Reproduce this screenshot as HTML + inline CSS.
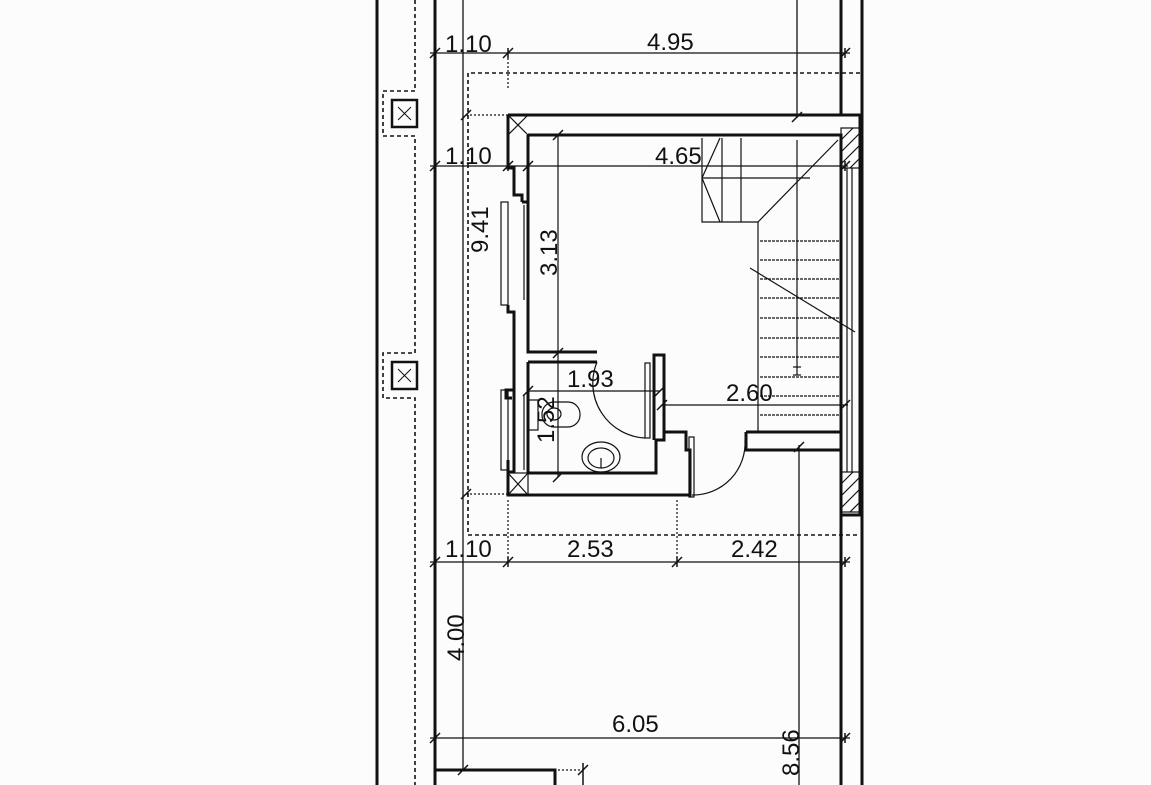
<!DOCTYPE html>
<html><head><style>
html,body{margin:0;padding:0;background:#fcfcfc;}
svg{display:block}
text{font-family:"Liberation Sans",sans-serif;font-size:24px;fill:#111}
</style></head><body>
<svg width="1151" height="785" viewBox="0 0 1151 785" xmlns="http://www.w3.org/2000/svg">
<g stroke="#111" fill="none">
<line x1="377" y1="0" x2="377" y2="785" stroke-width="3"/>
<line x1="862" y1="0" x2="862" y2="785" stroke-width="3"/>
<line x1="435" y1="0" x2="435" y2="785" stroke-width="3"/>
<line x1="463" y1="0" x2="463" y2="770" stroke-width="1.3"/>
<line x1="841" y1="0" x2="841" y2="115" stroke-width="3"/>
<line x1="841" y1="515" x2="841" y2="785" stroke-width="3"/>
<line x1="797" y1="0" x2="797" y2="118" stroke-width="1.3"/>
<line x1="799" y1="445" x2="799" y2="785" stroke-width="1.3"/>
<g stroke-dasharray="4,3" stroke-width="1.6">
<polyline points="415,0 415,91 383,91 383,136 415,136 415,353 383,353 383,398 415,398 415,785"/>
<polyline points="860,73 468,73 468,535 860,535"/>
</g>
<g stroke-dasharray="2,2" stroke-width="1.2">
<line x1="508" y1="58" x2="508" y2="90"/>
<line x1="466" y1="115" x2="508" y2="115"/>
<line x1="466" y1="494" x2="508" y2="494"/>
<line x1="508" y1="500" x2="508" y2="560"/>
<line x1="677" y1="500" x2="677" y2="560"/>
<line x1="558" y1="770" x2="583" y2="770"/>
</g>
<rect x="392" y="100" width="25" height="27" stroke-width="2.5"/>
<path d="M398 107 L411 120 M411 107 L398 120" stroke-width="1"/>
<rect x="392" y="362" width="25" height="27" stroke-width="2.5"/>
<path d="M398 369 L411 382 M411 369 L398 382" stroke-width="1"/>
<g stroke-width="1.2">
<line x1="430" y1="53" x2="850" y2="53"/>
<line x1="430" y1="166" x2="848" y2="166"/>
<line x1="430" y1="562" x2="850" y2="562"/>
<line x1="430" y1="738" x2="850" y2="738"/>
<line x1="558" y1="135" x2="558" y2="477"/>
<line x1="528" y1="391" x2="660" y2="391"/>
<line x1="662" y1="405" x2="848" y2="405"/>
<line x1="797" y1="140" x2="797" y2="375"/>
</g>
<g stroke-width="1.5">
<path d="M430 58 L440 48 M503 58 L513 48 M840 58 L850 48 M430 171 L440 161 M503 171 L513 161 M523 171 L533 161 M840 171 L850 161 M430 567 L440 557 M503 567 L513 557 M672 567 L682 557 M840 567 L850 557 M430 743 L440 733 M840 743 L850 733 M792 122 L802 112 M553 140 L563 130 M553 358 L563 348 M553 482 L563 472 M523 396 L533 386 M655 396 L665 386 M657 410 L667 400 M840 410 L850 400 M461 120 L471 110 M461 499 L471 489 M794 452 L804 442 M578 775 L588 765 M458 775 L468 765"/>
<path d="M435 48 V58 M508 48 V58 M845 48 V58 M435 161 V171 M508 161 V171 M528 161 V171 M845 161 V171 M435 557 V567 M508 557 V567 M677 557 V567 M845 557 V567 M435 733 V743 M845 733 V743 M583 763 V785"/>
</g>
<g stroke-width="3">
<polyline points="508,115 860,115 860,515 841,515"/>
<polyline points="528,135 841,135 841,515"/>
<polyline points="508,115 508,168 514,168 514,195 522,195 522,202"/>
<polyline points="528,135 528,352 597,352"/>
<polyline points="528,362 597,362"/>
<polyline points="508,305 508,312 514,312 514,390 506,390 506,398 512,398"/>
<polyline points="528,362 528,473 656,473 656,440 664,440 664,355 654,355 654,440"/>
<polyline points="508,460 508,495 690,495 690,450 686,450 686,432 664,432"/>
<polyline points="746,432 841,432"/>
<polyline points="746,432 746,450 841,450"/>
<polyline points="514,390 514,472 508,472 508,495"/>
<polyline points="522,202 528,202"/>
</g>
<g stroke-width="1.2">
<rect x="501" y="202" width="7" height="103"/>
<rect x="501" y="390" width="7" height="80"/>
<line x1="524" y1="205" x2="524" y2="300"/>
<line x1="524" y1="395" x2="524" y2="470"/>
<line x1="508" y1="115" x2="528" y2="135"/>
<line x1="528" y1="115" x2="508" y2="135"/>
<rect x="508" y="473" width="20" height="22"/>
<line x1="508" y1="473" x2="528" y2="495"/><line x1="528" y1="473" x2="508" y2="495"/>
<rect x="645" y="363" width="5" height="75"/>
<path d="M597 362 A55 55 0 0 0 645 438"/>
<rect x="689" y="437" width="5" height="60"/>
<path d="M692 495 A52 52 0 0 0 745 440"/>
<rect x="542" y="402" width="38" height="25" rx="12"/>
<ellipse cx="554" cy="414" rx="7" ry="6"/>
<rect x="528" y="400" width="10" height="30"/>
<ellipse cx="601" cy="457" rx="19" ry="15"/>
<ellipse cx="601" cy="458" rx="13" ry="10"/>
<line x1="601" y1="458" x2="601" y2="468"/>
<rect x="841" y="128" width="19" height="40"/>
<path d="M841 140 L853 128 M841 152 L860 133 M841 164 L860 145 M850 168 L860 158"/>
<rect x="841" y="472" width="19" height="40"/>
<path d="M841 484 L853 472 M841 496 L860 477 M841 508 L860 489 M850 512 L860 502"/>
<line x1="847" y1="168" x2="847" y2="472"/><line x1="852" y1="168" x2="852" y2="472"/>
<polyline points="702,138 702,222 758,222 758,432"/>
<line x1="722" y1="138" x2="722" y2="222"/>
<line x1="741" y1="138" x2="741" y2="222"/>
<line x1="702" y1="178" x2="810" y2="178"/>
<line x1="720" y1="138" x2="702" y2="178"/>
<line x1="702" y1="178" x2="720" y2="222"/>
<line x1="758" y1="222" x2="838" y2="140"/>
<line x1="750" y1="268" x2="855" y2="332"/>
</g>
<g stroke-width="1.2" stroke-dasharray="3,1">
<line x1="760" y1="241" x2="841" y2="241"/>
<line x1="760" y1="260" x2="841" y2="260"/>
<line x1="760" y1="279" x2="841" y2="279"/>
<line x1="760" y1="298" x2="841" y2="298"/>
<line x1="760" y1="318" x2="841" y2="318"/>
<line x1="760" y1="338" x2="841" y2="338"/>
<line x1="760" y1="357" x2="841" y2="357"/>
<line x1="760" y1="377" x2="841" y2="377"/>
<line x1="760" y1="396" x2="841" y2="396"/>
<line x1="760" y1="415" x2="841" y2="415"/>
</g>
<line x1="793" y1="367" x2="801" y2="367" stroke-width="1.2"/>
<line x1="793" y1="375" x2="801" y2="375" stroke-width="1.2"/>
<polyline points="435,737 435,770 555,770 555,785" stroke-width="3"/>
</g>
<text x="445" y="52">1.10</text>
<text x="647" y="50">4.95</text>
<text x="445" y="164">1.10</text>
<text x="655" y="164">4.65</text>
<text x="567" y="387">1.93</text>
<text x="726" y="401">2.60</text>
<text x="445" y="557">1.10</text>
<text x="567" y="557">2.53</text>
<text x="731" y="557">2.42</text>
<text x="612" y="732">6.05</text>
<text transform="translate(488,253) rotate(-90)">9.41</text>
<text transform="translate(557,276) rotate(-90)">3.13</text>
<text transform="translate(554,443) rotate(-90)">1.52</text>
<text transform="translate(464,661) rotate(-90)">4.00</text>
<text transform="translate(799,776) rotate(-90)">8.56</text>
</svg>
</body></html>
